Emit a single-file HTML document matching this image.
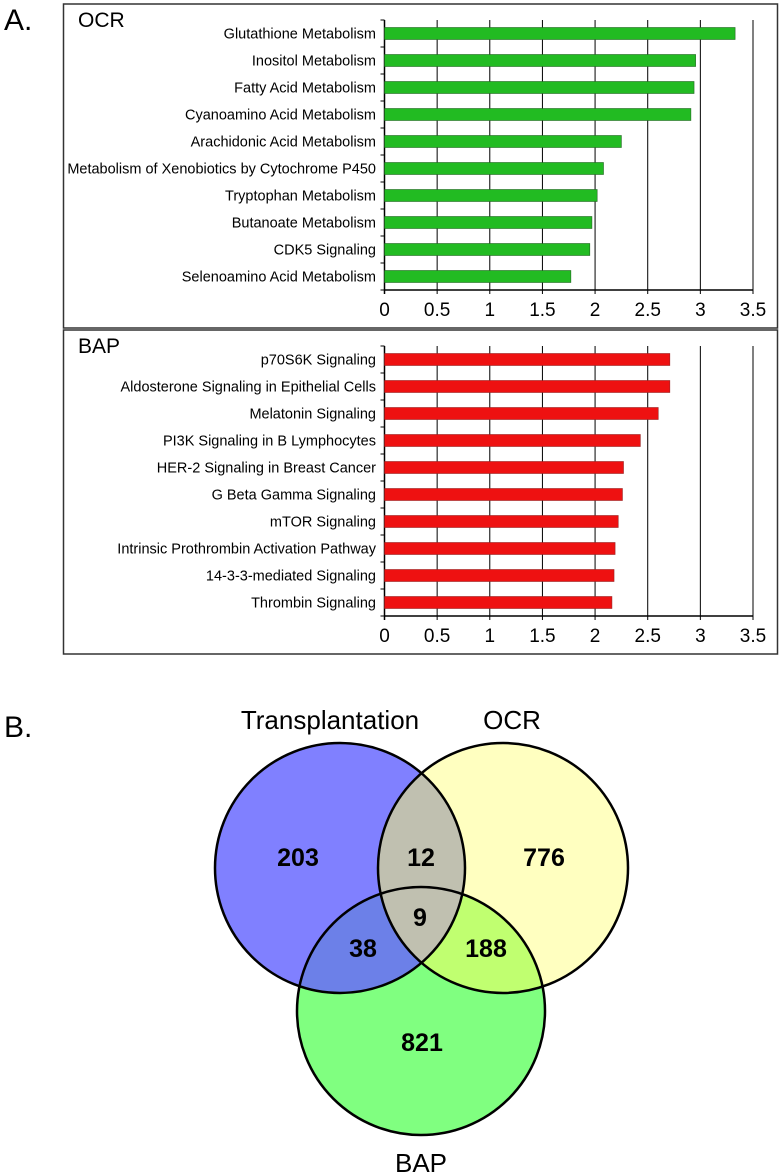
<!DOCTYPE html>
<html><head><meta charset="utf-8"><style>
html,body{margin:0;padding:0;background:#fff;}
svg{display:block;font-family:"Liberation Sans Narrow","Liberation Sans",sans-serif;}
</style></head><body>
<svg id="fig" width="781" height="1174" viewBox="0 0 781 1174" xmlns="http://www.w3.org/2000/svg">
<text x="4" y="30" font-size="30" font-family="Liberation Sans, sans-serif">A.</text>
<text x="4" y="737" font-size="30" font-family="Liberation Sans, sans-serif">B.</text>
<g id="ocr"></g>
<g id="bap"></g>
<g id="venn">
<defs>
<clipPath id="cT"><circle cx="340" cy="868" r="125"/></clipPath>
<clipPath id="cO"><circle cx="503" cy="868" r="125"/></clipPath>
<clipPath id="cB"><circle cx="421" cy="1011" r="124"/></clipPath>
</defs>
<circle cx="340" cy="868" r="125" fill="#8080ff"/>
<circle cx="503" cy="868" r="125" fill="#ffffc0"/>
<circle cx="421" cy="1011" r="124" fill="#80ff80"/>
<g clip-path="url(#cT)"><circle cx="503" cy="868" r="125" fill="#c0c0b0"/></g>
<g clip-path="url(#cT)"><circle cx="421" cy="1011" r="124" fill="#6c80e8"/></g>
<g clip-path="url(#cO)"><circle cx="421" cy="1011" r="124" fill="#c0ff70"/></g>
<g clip-path="url(#cT)"><g clip-path="url(#cO)"><circle cx="421" cy="1011" r="124" fill="#c0c0b0"/></g></g>
<g fill="none" stroke="#000" stroke-width="2.5">
<circle cx="340" cy="868" r="125"/><circle cx="503" cy="868" r="125"/><circle cx="421" cy="1011" r="124"/>
</g>
<g font-size="26" text-anchor="middle">
<text x="330" y="729">Transplantation</text>
<text x="512" y="729">OCR</text>
<text x="421" y="1172">BAP</text>
</g>
<g font-size="25" font-weight="bold" text-anchor="middle">
<text x="298" y="866">203</text>
<text x="421" y="866">12</text>
<text x="544" y="866">776</text>
<text x="420" y="926">9</text>
<text x="363" y="957">38</text>
<text x="486" y="957">188</text>
<text x="422" y="1051">821</text>
</g>
</g>
</svg>
<script>
const ocrCategories=["Glutathione Metabolism","Inositol Metabolism","Fatty Acid Metabolism","Cyanoamino Acid Metabolism","Arachidonic Acid Metabolism","Metabolism of Xenobiotics by Cytochrome P450","Tryptophan Metabolism","Butanoate Metabolism","CDK5 Signaling","Selenoamino Acid Metabolism"];
const ocrValues=[3.33,2.955,2.94,2.91,2.25,2.08,2.02,1.97,1.95,1.77];
const bapCategories=["p70S6K Signaling","Aldosterone Signaling in Epithelial Cells","Melatonin Signaling","PI3K Signaling in B Lymphocytes","HER-2 Signaling in Breast Cancer","G Beta Gamma Signaling","mTOR Signaling","Intrinsic Prothrombin Activation Pathway","14-3-3-mediated Signaling","Thrombin Signaling"];
const bapValues=[2.71,2.71,2.60,2.43,2.27,2.26,2.22,2.19,2.18,2.16];
const tickValues=[0,0.5,1,1.5,2,2.5,3,3.5];
const tickLabels=["0","0.5","1","1.5","2","2.5","3","3.5"];
const NS="http://www.w3.org/2000/svg";
function mk(p,t,a){const e=document.createElementNS(NS,t);for(const k in a)e.setAttribute(k,a[k]);p.appendChild(e);return e;}
function draw(g,title,cats,vals,color,boxTop,boxBot,axTop,axBot){
  const x0=384.5,x1=753;const xs=v=>x0+(x1-x0)*v/3.5;
  const band=(axBot-axTop)/cats.length;const ys=i=>axTop+band*(i+0.5);
  const box=mk(g,'rect',{x:63.5,y:boxTop,width:714,height:boxBot-boxTop,fill:'none',stroke:'#333','stroke-width':1.5});
  
  
  const tt=mk(g,'text',{x:78,y:boxTop+23,'font-size':21});tt.textContent=title;
  
  
  tickValues.forEach((v,i)=>{
    const gl=mk(g,'line',{x1:xs(v),x2:xs(v),y1:axTop,y2:axBot+4,stroke:'#000','stroke-width':i===0?1.5:1});
    
    
    const tl=mk(g,'text',{x:xs(v),y:axBot+26,'font-size':19,'text-anchor':'middle'});tl.textContent=tickLabels[i];
    
    
  });
  mk(g,'line',{x1:x0,x2:x1,y1:axBot,y2:axBot,stroke:'#000','stroke-width':1.5});
  for(let i=0;i<=cats.length;i++)mk(g,'line',{x1:x0-4,x2:x0,y1:axTop+band*i,y2:axTop+band*i,stroke:'#000'});
  cats.forEach((c,i)=>{
    const r=mk(g,'rect',{x:x0,y:ys(i)-6,width:xs(vals[i])-x0,height:12,fill:color,stroke:'#226622','stroke-width':0.6});
    if(color!=='#22bb22')r.setAttribute('stroke','#992222');
    
    
    const l=mk(g,'text',{x:376,y:ys(i)+5,'font-size':14.5,'text-anchor':'end'});l.textContent=c;
    
    
  });
}
draw(document.getElementById('ocr'),'OCR',ocrCategories,ocrValues,'#22bb22',4,328,20,290);
draw(document.getElementById('bap'),'BAP',bapCategories,bapValues,'#ee1111',330,654,346,616);
</script>
</body></html>
